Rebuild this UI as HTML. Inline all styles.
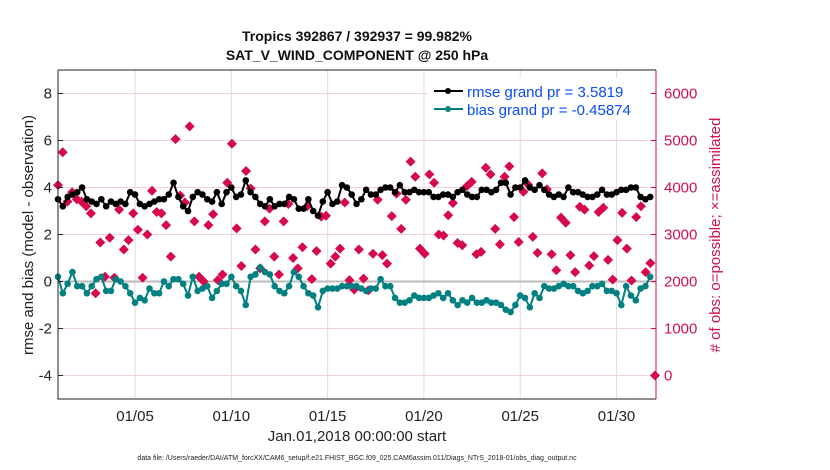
<!DOCTYPE html>
<html><head><meta charset="utf-8"><style>
body{margin:0;background:#fff;}
svg{display:block;font-family:"Liberation Sans",sans-serif;}
</style></head><body>
<svg id="chart" width="830" height="470" viewBox="0 0 830 470" xmlns="http://www.w3.org/2000/svg">
<rect width="830" height="470" fill="#fff"/>
<text x="357" y="41" text-anchor="middle" font-size="14" font-weight="bold" fill="#111">Tropics 392867 / 392937 = 99.982%</text>
<text x="357" y="60" text-anchor="middle" font-size="14" font-weight="bold" fill="#111">SAT_V_WIND_COMPONENT @ 250 hPa</text>
<g id="grid"></g>
<g id="marks"></g>
<g id="axes"></g>
<text x="357" y="441" text-anchor="middle" font-size="15" fill="#222">Jan.01,2018 00:00:00 start</text>
<text x="357" y="460" text-anchor="middle" font-size="7" fill="#222">data file: /Users/raeder/DAI/ATM_forcXX/CAM6_setup/f.e21.FHIST_BGC.f09_025.CAM6assim.011/Diags_NTrS_2018-01/obs_diag_output.nc</text>
<text transform="translate(33,235) rotate(-90)" text-anchor="middle" font-size="15" fill="#222">rmse and bias (model - observation)</text>
<text transform="translate(720,235) rotate(-90)" text-anchor="middle" font-size="15" fill="#d0104c"># of obs: o=possible; ×=assimilated</text>
<g>
<rect x="428" y="78" width="222" height="42" fill="#fff"/>
<line x1="434" y1="91" x2="463" y2="91" stroke="#000" stroke-width="2"/>
<circle cx="448" cy="91" r="3" fill="#000"/>
<text x="467" y="97" font-size="15" fill="#0a4cf5">rmse grand pr = 3.5819</text>
<line x1="434" y1="109" x2="463" y2="109" stroke="#008080" stroke-width="2"/>
<circle cx="448" cy="109" r="3" fill="#008080"/>
<text x="467" y="115" font-size="15" fill="#0a4cf5">bias grand pr = -0.45874</text>
</g>
</svg>
<script>
const xTickLabels = ["01/05","01/10","01/15","01/20","01/25","01/30"];
const xTickDays = [4,9,14,19,24,29];
const leftTicks = [-4,-2,0,2,4,6,8];
const rightTicks = [0,1000,2000,3000,4000,5000,6000];
const rmse = [3.5,3.2,3.6,3.7,3.8,4.0,3.5,3.4,3.3,3.5,3.2,3.4,3.3,3.4,3.3,3.8,3.7,3.3,3.2,3.3,3.4,3.5,3.5,3.7,4.2,3.6,3.2,3.0,3.6,3.8,3.7,3.5,3.4,3.8,3.3,3.8,4.0,3.6,3.7,4.3,3.8,3.6,3.3,3.2,3.5,3.2,3.3,3.3,3.6,3.5,3.1,3.1,3.5,3.0,2.8,3.4,3.8,3.3,3.4,4.1,4.0,
3.7,3.3,3.5,3.9,3.7,3.7,3.9,4.0,4.0,3.8,4.1,3.8,3.8,3.9,3.8,3.8,3.8,3.6,3.6,3.7,3.7,3.6,3.8,3.9,3.7,3.6,3.6,3.9,3.9,3.8,3.9,4.2,4.2,3.7,4.0,4.0,4.3,4.0,3.9,4.1,3.9,3.7,3.6,3.7,3.6,4.0,3.8,3.8,3.7,3.6,3.6,3.7,3.9,3.7,3.7,3.8,3.9,3.9,4.0,4.0,3.6,3.5,3.6];
const bias = [0.2,-0.5,-0.1,0.4,-0.2,-0.2,-0.5,-0.2,0.1,0.2,-0.4,-0.4,0.1,0,-0.2,-0.5,-0.9,-0.7,-0.8,-0.3,-0.5,-0.5,0,-0.2,0.1,0.1,-0.1,-0.6,0.2,-0.4,-0.3,-0.2,-0.7,-0.4,-0.1,-0.1,0.2,-0.2,-0.4,-1.0,0.2,0.3,0.6,0.4,0.3,-0.2,-0.4,-0.5,-0.2,0.4,0.2,-0.2,-0.5,-0.6,-1.1,-0.4,-0.3,-0.3,-0.3,-0.2,-0.2,
-0.2,-0.2,-0.3,-0.4,-0.3,-0.3,0.1,-0.2,-0.2,-0.7,-0.9,-0.9,-0.8,-0.6,-0.7,-0.7,-0.7,-0.6,-0.5,-0.7,-0.5,-0.8,-1.0,-0.8,-0.9,-0.7,-0.9,-0.9,-0.8,-0.9,-0.9,-1.0,-1.2,-1.3,-1.0,-0.6,-0.7,-1.1,-0.5,-0.7,-0.2,-0.3,-0.3,-0.2,-0.1,-0.2,-0.2,-0.4,-0.5,-0.4,-0.2,-0.2,-0.1,-0.4,-0.4,-0.5,-1.0,-0.2,-0.6,-0.8,-0.3,-0.2,0.2];
const obsCount = [4050,4750,3700,3900,3750,3700,3600,3450,1750,2830,2100,2930,2080,3530,2680,2880,3450,3100,2080,3000,3930,3480,3450,3200,2530,5030,3830,3680,5300,3280,2100,2000,3200,3430,2030,2150,4100,4930,3130,2330,4350,3980,2680,2280,3280,3550,2530,2150,3280,3650,2500,2280,2730,3600,2050,2650,3380,3400,2380,2530,2700,3680,2030,1830,
2680,2060,1810,2590,3740,2560,2380,3390,3870,3120,3740,4550,4230,2700,2590,4280,4100,3000,2980,3410,3670,2820,2770,4030,4120,2580,2630,4420,4280,3120,2790,4230,4450,3370,2840,3910,4060,2950,2610,4300,3960,2580,2240,3360,3250,2560,2200,3590,3530,2340,2540,3480,3570,2460,2040,2880,3460,2700,2020,3370,3600,2200,2390,0];

const L=58,R=656,T=70,B=399;
const xDomain=[0,31.05];
const yL=[-5,9], yR=[-500,6500];
function xs(d){return L+(d-xDomain[0])/(xDomain[1]-xDomain[0])*(R-L);}
function yl(v){return B-(v-yL[0])/(yL[1]-yL[0])*(B-T);}
function yr(v){return B-(v-yR[0])/(yR[1]-yR[0])*(B-T);}
const NS="http://www.w3.org/2000/svg";
function mk(tag,attrs,parent){const e=document.createElementNS(NS,tag);for(const k in attrs)e.setAttribute(k,attrs[k]);parent.appendChild(e);return e;}
const grid=document.getElementById('grid'),marks=document.getElementById('marks'),axes=document.getElementById('axes');

leftTicks.forEach(v=>{
  const g=mk('line',{x1:L,x2:R,y1:yl(v),y2:yl(v),stroke:'#f3cfe0','stroke-width':1},grid);
  
  
  const t=mk('text',{x:L-6,y:yl(v)+5,'text-anchor':'end','font-size':15,fill:'#222'},axes);
  t.textContent=v;
  
  
  const tk=mk('line',{x1:L,x2:L+5,y1:yl(v),y2:yl(v),stroke:'#222'},axes);
  
  
});
rightTicks.forEach(v=>{
  const t=mk('text',{x:R+8,y:yr(v)+5,'font-size':15,fill:'#d0104c'},axes);
  t.textContent=v;
  
  
  const tk=mk('line',{x1:R-5,x2:R,y1:yr(v),y2:yr(v),stroke:'#d0104c'},axes);
  
  
});
xTickDays.forEach((d,i)=>{
  const g=mk('line',{x1:xs(d),x2:xs(d),y1:T,y2:B,stroke:'#ddd','stroke-width':1},grid);
  
  
  const t=mk('text',{x:xs(d),y:421,'text-anchor':'middle','font-size':15,fill:'#222'},axes);
  t.textContent=xTickLabels[i];
  
  
});
const zl=mk('line',{x1:L,x2:R,y1:yl(0),y2:yl(0),stroke:'#bbb','stroke-width':2},grid);



const step=31/(obsCount.length-1);
obsCount.forEach((v,i)=>{
  const x=xs(i*step),y=yr(v);
  const p=mk('path',{d:`M${x},${y-5}L${x+5},${y}L${x},${y+5}L${x-5},${y}Z`,fill:'#d6094f'},marks);
  
  
});
function series(arr,color,name){
  const pts=arr.map((v,i)=>[xs(i*0.25),yl(v)]);
  const pl=mk('polyline',{points:pts.map(p=>p.join(',')).join(' '),fill:'none',stroke:color,'stroke-width':2},marks);
  
  
  pts.forEach(p=>{
    const c=mk('circle',{cx:p[0],cy:p[1],r:3.3,fill:color},marks);
    
    
  });
}
series(bias,'#008080','bias');
series(rmse,'#000','rmse');

const frame=mk('path',{d:`M${L},${T}L${L},${B}L${R},${B}`,fill:'none',stroke:'#222','stroke-width':1},axes);


const topBorder=mk('line',{x1:L,x2:R,y1:T,y2:T,stroke:'#222'},axes);


const ra=mk('line',{x1:R,x2:R,y1:T,y2:B,stroke:'#d0104c'},axes);


</script>
</body></html>
